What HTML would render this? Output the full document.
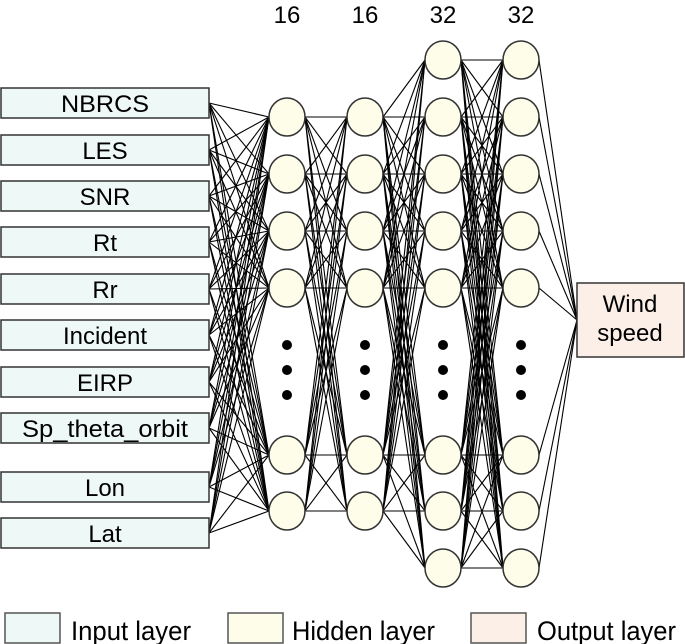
<!DOCTYPE html>
<html><head><meta charset="utf-8"><style>
html,body{margin:0;padding:0;background:#fff;}
svg{display:block;font-family:"Liberation Sans",Arial,sans-serif;}
</style></head><body>
<svg id="s" width="685" height="644" viewBox="0 0 685 644" xmlns="http://www.w3.org/2000/svg">
<g id="lines" stroke="#000" stroke-width="1.1"></g>
<g id="shapes"></g>
</svg>
<script>
const NS="http://www.w3.org/2000/svg";
const L=document.getElementById('lines'),S=document.getElementById('shapes');
function el(p,tag,a,t){const e=document.createElementNS(NS,tag);for(const k in a)e.setAttribute(k,a[k]);if(t)e.textContent=t;p.appendChild(e);return e;}
const inputs=[["NBRCS",103,88],["LES",150,0],["SNR",196,0],["Rt",242,0],["Rr",289,0],["Incident",335,0],["EIRP",382,0],["Sp_theta_orbit",428,166],["Lon",487,0],["Lat",533,0]];
const small=[117,174,231,288,455,511];
const big=[60,117,174,231,288,455,511,568];
const layers=[[287,small],[365,small],[443,big],[521,big]];
const R=18;
inputs.forEach(i=>small.forEach(y=>el(L,'line',{x1:209,y1:i[1],x2:287-R,y2:y})));
for(let l=0;l<3;l++){const a=layers[l],b=layers[l+1];
 a[1].forEach(y1=>b[1].forEach(y2=>el(L,'line',{x1:a[0]+R,y1:y1,x2:b[0]-R,y2:y2})));}
big.forEach(y=>el(L,'line',{x1:521+R,y1:y,x2:577,y2:320}));
inputs.forEach(i=>{el(S,'rect',{x:1,y:i[1]-15,width:208,height:30,fill:'#eef8f6',stroke:'#333','stroke-width':1.5});
 const a={x:105,y:i[1]+9,'text-anchor':'middle','font-size':24};
 if(i[2]){a.textLength=i[2];a.lengthAdjust='spacingAndGlyphs';}
 el(S,'text',a,i[0]);});
layers.forEach(l=>{l[1].forEach(y=>el(S,'ellipse',{cx:l[0],cy:y,rx:R,ry:19,fill:'#fdfde9',stroke:'#333','stroke-width':1.5}));
 [345,370,395].forEach(y=>el(S,'circle',{cx:l[0],cy:y,r:5,fill:'#000'}));});
[["16",287],["16",365],["32",443],["32",521]].forEach(h=>el(S,'text',{x:h[1],y:23,'text-anchor':'middle','font-size':24},h[0]));
el(S,'rect',{x:577,y:283,width:107,height:74,fill:'#fcefe7',stroke:'#333','stroke-width':1.5});
el(S,'text',{x:630,y:312,'text-anchor':'middle','font-size':24},"Wind");
el(S,'text',{x:630,y:341,'text-anchor':'middle','font-size':24},"speed");
[[5,'#eef8f6',"Input layer",71,120],[228,'#fdfde9',"Hidden layer",292,143],[471,'#fcefe7',"Output layer",537,139]].forEach(g=>{
 el(S,'rect',{x:g[0],y:613,width:55,height:30,fill:g[1],stroke:'#555','stroke-width':1.5});
 el(S,'text',{x:g[3],y:640,'font-size':27,textLength:g[4],lengthAdjust:'spacingAndGlyphs'},g[2]);});
</script>
</body></html>
